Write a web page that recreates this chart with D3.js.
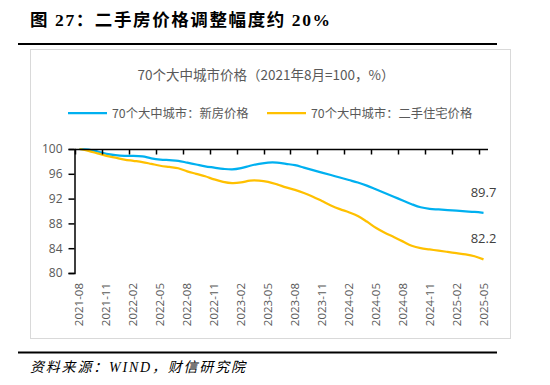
<!DOCTYPE html>
<html><head><meta charset="utf-8">
<script src="https://cdn.jsdelivr.net/npm/d3@7"></script>
<style>body{margin:0;background:#fff}svg{display:block}</style>
</head><body>
<svg id="c" width="550" height="385"></svg>
<script>
const months = ["2021-08","2021-09","2021-10","2021-11","2021-12","2022-01","2022-02","2022-03","2022-04","2022-05","2022-06","2022-07","2022-08","2022-09","2022-10","2022-11","2022-12","2023-01","2023-02","2023-03","2023-04","2023-05","2023-06","2023-07","2023-08","2023-09","2023-10","2023-11","2023-12","2024-01","2024-02","2024-03","2024-04","2024-05","2024-06","2024-07","2024-08","2024-09","2024-10","2024-11","2024-12","2025-01","2025-02","2025-03","2025-04","2025-05"];
const newHome = [100.0,99.9,99.6,99.2,99.0,98.9,98.9,98.8,98.5,98.3,98.2,98.1,97.8,97.5,97.2,97.0,96.8,96.7,96.9,97.3,97.6,97.8,97.8,97.6,97.4,97.0,96.6,96.2,95.8,95.4,95.0,94.6,94.1,93.5,92.9,92.3,91.7,91.1,90.6,90.35,90.25,90.15,90.05,89.95,89.85,89.7];
const secondHand = [100.0,99.7,99.3,98.9,98.6,98.3,98.1,97.9,97.6,97.3,97.1,96.9,96.4,96.0,95.6,95.1,94.7,94.5,94.6,94.9,94.9,94.7,94.3,93.8,93.4,92.9,92.3,91.6,90.9,90.3,89.8,89.2,88.3,87.3,86.5,85.8,85.1,84.4,84.0,83.8,83.6,83.4,83.2,83.0,82.7,82.2];
const yTicks = [80,84,88,92,96,100];
const seriesNames = ["70个大中城市：新房价格","70个大中城市：二手住宅价格"];
const seriesColors = ["#00b0f0","#ffc000"];
const endLabels = ["89.7","82.2"];

const svg = d3.select("#c");
const cjk = "'Noto Sans CJK SC','Noto Sans',sans-serif";
const grey = "#595959";

// Title
svg.append("text").attr("x",30).attr("y",26).attr("font-family","'Liberation Serif','Noto Sans CJK SC',serif")
  .attr("font-weight","bold").attr("font-size",17.5).attr("letter-spacing",1.6).attr("fill","#000")
  .text("图 27：二手房价格调整幅度约 20%");
svg.append("line").attr("x1",18).attr("x2",497).attr("y1",44).attr("y2",44).attr("stroke","#000").attr("stroke-width",2);
// footer
svg.append("line").attr("x1",18).attr("x2",497).attr("y1",352.5).attr("y2",352.5).attr("stroke","#000").attr("stroke-width",2);
svg.append("text").attr("x",30).attr("y",372).attr("font-family","'Liberation Serif','Noto Sans CJK SC',serif")
  .attr("font-style","italic").attr("font-size",14).attr("letter-spacing",1.8).attr("fill","#000")
  .text("资料来源：WIND，财信研究院");

// chart frame
svg.append("rect").attr("x",30.5).attr("y",49.5).attr("width",480).attr("height",289)
  .attr("fill","#fff").attr("stroke","#d9d9d9");

svg.append("text").attr("x",266).attr("y",80).attr("text-anchor","middle")
  .attr("font-family",cjk).attr("font-size",13.5).attr("fill",grey)
  .text("70个大中城市价格（2021年8月=100，%）");

// legend
const legX = [68,267];
seriesNames.forEach((n,i)=>{
  svg.append("line").attr("x1",legX[i]).attr("x2",legX[i]+39).attr("y1",113).attr("y2",113)
    .attr("stroke",seriesColors[i]).attr("stroke-width",2.25);
  svg.append("text").attr("x",legX[i]+44).attr("y",117.5).attr("font-family",cjk)
    .attr("font-size",12.3).attr("fill",grey).text(n);
});

// scales
const x = d3.scaleBand().domain(months).range([75,488]).paddingInner(0).paddingOuter(0);
const cx = m => x(m) + x.bandwidth()/2;
const y = d3.scaleLinear().domain([80,100]).range([273,149]);

// lines
const line = d3.line().x((d,i)=>cx(months[i])).y(d=>y(d)).curve(d3.curveCatmullRom.alpha(0.5));
[newHome, secondHand].forEach((s,i)=>{
  svg.append("path").attr("d",line(s)).attr("fill","none").attr("stroke",seriesColors[i])
    .attr("stroke-width",2.25).attr("stroke-linejoin","round");
});

// x axis (at top line, value 100), ticks at category boundaries every 3 months
const tickIdx = d3.range(0,46,3);
const gx = svg.append("g");
gx.append("line").attr("x1",75).attr("x2",488).attr("y1",149.5).attr("y2",149.5).attr("stroke","#000").attr("stroke-width",1.5);
tickIdx.forEach(i=>{
  const xp = Math.round(x(months[i]))+0.5;
  gx.append("line").attr("x1",xp).attr("x2",xp).attr("y1",149.5).attr("y2",154.5).attr("stroke","#000").attr("stroke-width",1.5);
  gx.append("text").attr("transform",`translate(${cx(months[i])+4},283) rotate(-90)`)
    .attr("text-anchor","end").attr("font-family","'Open Sans','Noto Sans',sans-serif").attr("font-size",11.5)
    .attr("fill",grey).text(months[i]);
});

// y axis
const gy = svg.append("g").attr("transform","translate(74.5,0)")
  .call(d3.axisLeft(y).tickValues(yTicks).tickSize(6).tickPadding(6).tickFormat(d3.format("d")));
gy.select(".domain").attr("stroke","#000").attr("stroke-width",1.5);
gy.selectAll(".tick line").attr("stroke","#000").attr("stroke-width",1.5);
gy.selectAll(".tick text").attr("font-family","'Open Sans','Noto Sans',sans-serif").attr("font-size",12).attr("fill",grey);

// end labels
[newHome, secondHand].forEach((s,i)=>{
  svg.append("text").attr("x",cx(months[45])).attr("y",y(s[45])-16).attr("text-anchor","middle")
    .attr("font-family","'Open Sans','Noto Sans',sans-serif").attr("font-size",13).attr("fill","#404040")
    .text(endLabels[i]);
});
</script>
</body></html>
